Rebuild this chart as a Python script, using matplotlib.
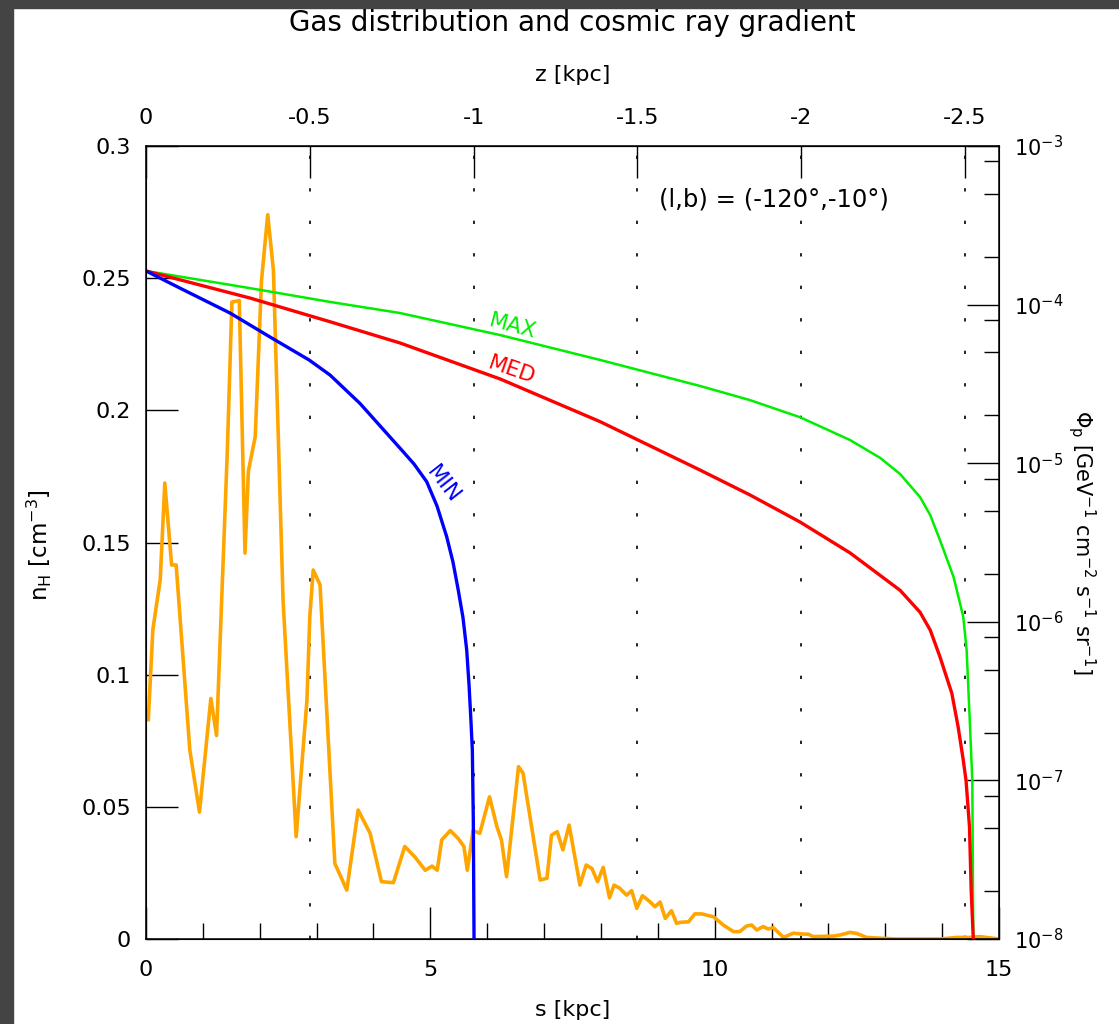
import numpy as np
import matplotlib
matplotlib.use("Agg")
import matplotlib.pyplot as plt
from matplotlib.ticker import LogLocator, NullFormatter, MultipleLocator
from matplotlib.patches import Rectangle

# gas density along the line of sight
s_gas = [0.04, 0.12, 0.25, 0.33, 0.45, 0.53, 0.77, 0.94, 1.14, 1.24, 1.43, 1.51, 1.64,
         1.74, 1.80, 1.92, 2.03, 2.14, 2.24, 2.41, 2.64, 2.83, 2.88, 2.94, 3.06, 3.32,
         3.53, 3.73, 3.94, 4.14, 4.35, 4.55, 4.73, 4.91, 5.03, 5.12, 5.20, 5.35, 5.49,
         5.59, 5.65, 5.75, 5.87, 6.04, 6.17, 6.25, 6.34, 6.55, 6.63, 6.93, 7.05, 7.13,
         7.23, 7.33, 7.44, 7.63, 7.74, 7.84, 7.94, 8.04, 8.15, 8.23, 8.33, 8.45, 8.54,
         8.63, 8.73, 8.86, 8.95, 9.04, 9.13, 9.24, 9.33, 9.39, 9.54, 9.65, 9.77, 9.98,
         10.15, 10.33, 10.44, 10.56, 10.65, 10.74, 10.85, 10.94, 11.03, 11.21, 11.38,
         11.53, 11.65, 11.73, 12.09, 12.20, 12.38, 12.50, 12.67, 12.91, 13.20, 13.49,
         13.79, 13.96, 14.26, 14.49, 14.66, 15.0]
n_gas = [0.083, 0.117, 0.136, 0.1725, 0.1415, 0.1415, 0.0715, 0.048, 0.091, 0.077, 0.185,
         0.241, 0.2415, 0.146, 0.177, 0.190, 0.249, 0.274, 0.253, 0.128, 0.0387, 0.0904,
         0.122, 0.1396, 0.134, 0.0286, 0.0185, 0.0488, 0.040, 0.0217, 0.0213, 0.035,
         0.031, 0.026, 0.0276, 0.026, 0.0375, 0.041, 0.038, 0.035, 0.026, 0.041, 0.040,
         0.0538, 0.0425, 0.0375, 0.0236, 0.0652, 0.0627, 0.0223, 0.023, 0.0393, 0.0406,
         0.0337, 0.0431, 0.0204, 0.028, 0.0267, 0.0217, 0.0271, 0.0156, 0.0204, 0.0192,
         0.0166, 0.0183, 0.0116, 0.0164, 0.0141, 0.0122, 0.014, 0.0078, 0.0107, 0.0059,
         0.0063, 0.0065, 0.0095, 0.0095, 0.0084, 0.0053, 0.0028, 0.0028, 0.0049, 0.0053,
         0.0034, 0.0047, 0.0038, 0.0043, 0.0006, 0.0022, 0.0019, 0.0018, 0.0009, 0.0011,
         0.0015, 0.0025, 0.0021, 0.0006, 0.0003, 0.0, 0.0, 0.0, 0.0, 0.0006, 0.0006,
         0.0009, 0.0]

# cosmic ray flux for the three propagation models
s_max = [0.0, 1.829, 3.235, 4.466, 6.225, 7.983, 9.741, 10.62, 11.50, 12.38, 12.91, 13.26,
         13.61, 13.79, 13.96, 14.20, 14.37, 14.43, 14.49, 14.53, 14.547]
phi_max = [1.63e-4, 1.27e-4, 1.04e-4, 8.85e-5, 6.43e-5, 4.48e-5, 3.07e-5, 2.50e-5, 1.95e-5,
           1.40e-5, 1.08e-5, 8.55e-6, 6.12e-6, 4.71e-6, 3.28e-6, 1.92e-6, 1.08e-6, 6.65e-7,
           2.18e-7, 9.95e-8, 1.0e-8]

s_med = [0.0, 1.829, 3.235, 4.466, 6.225, 7.983, 9.741, 10.62, 11.50, 12.38, 13.26, 13.61,
         13.79, 13.96, 14.17, 14.28, 14.37, 14.42, 14.48, 14.51, 14.547]
phi_med = [1.63e-4, 1.10e-4, 7.80e-5, 5.73e-5, 3.40e-5, 1.83e-5, 9.06e-6, 6.31e-6, 4.26e-6,
           2.72e-6, 1.58e-6, 1.15e-6, 8.87e-7, 6.03e-7, 3.54e-7, 2.18e-7, 1.35e-7, 9.95e-8,
           5.11e-8, 2.04e-8, 1.0e-8]

s_min = [0.0, 0.598, 1.477, 2.180, 2.866, 3.235, 3.763, 4.496, 4.713, 4.936, 5.117, 5.287,
         5.398, 5.491, 5.574, 5.639, 5.680, 5.710, 5.738, 5.755, 5.768]
phi_min = [1.63e-4, 1.27e-4, 8.85e-5, 6.25e-5, 4.48e-5, 3.60e-5, 2.38e-5, 1.21e-5, 9.88e-6,
           7.64e-6, 5.37e-6, 3.44e-6, 2.38e-6, 1.58e-6, 1.06e-6, 6.64e-7, 4.00e-7, 2.52e-7,
           1.56e-7, 5.64e-8, 1.0e-8]

z_ticks = [0, -0.5, -1, -1.5, -2, -2.5]
z_labels = ["0", "-0.5", "-1", "-1.5", "-2", "-2.5"]
nh_ticks = [0, 0.05, 0.1, 0.15, 0.2, 0.25, 0.3]
nh_labels = ["0", "0.05", "0.1", "0.15", "0.2", "0.25", "0.3"]
b_deg = -10.0

plt.rcParams['font.family'] = ['DejaVu Sans']
plt.rcParams['mathtext.fontset'] = 'dejavusans'

fig = plt.figure(figsize=(11.19, 10.24), dpi=100)
# dark frame of the screenshot
fig.patches.append(Rectangle((0, 0), 0.0116, 1, transform=fig.transFigure, color='#444444', zorder=0))
fig.patches.append(Rectangle((0, 1 - 0.0078), 1, 0.0078, transform=fig.transFigure, color='#444444', zorder=0))

ax = fig.add_axes([0.1305, 0.0830, 0.7623, 0.7744])
ax.plot(s_gas, n_gas, color='#ffa500', lw=2.6)
ax.set_xlim(0, 15)
ax.set_ylim(0, 0.3)
ax.set_xticks([0, 5, 10, 15])
ax.set_xticklabels(["0", "5", "10", "15"])
ax.xaxis.set_minor_locator(MultipleLocator(1))
ax.set_yticks(nh_ticks)
ax.set_yticklabels(nh_labels)
ax.tick_params(which='major', direction='in', length=23, width=1, labelsize=16, pad=11,
               top=False, right=False)
ax.tick_params(axis='x', which='major', pad=15)
ax.tick_params(which='minor', direction='in', length=11.5, width=1, top=False, right=False)
for sp in ax.spines.values():
    sp.set_linewidth(1.1)

# top axis: height below the plane along the line of sight
sinb = np.sin(np.radians(-b_deg))
sec = ax.secondary_xaxis('top', functions=(lambda s: -s * sinb, lambda z: -z / sinb))
sec.set_xticks(z_ticks)
sec.set_xticklabels(z_labels)
sec.tick_params(direction='in', length=23, width=1, labelsize=16, pad=13)
for z in z_ticks[1:]:
    ax.axvline(-z / sinb, color='black', lw=1.2, linestyle=(0, (2, 17.5)), zorder=1)

ax2 = ax.twinx()
ax2.set_yscale('log')
ax2.plot(s_max, phi_max, color='#00ee00', lw=1.8)
ax2.plot(s_med, phi_med, color='#ff0000', lw=2.4)
ax2.plot(s_min, phi_min, color='#0000ff', lw=2.4)
ax2.set_ylim(1e-8, 1e-3)
ax2.set_xlim(0, 15)
ax2.yaxis.set_major_locator(LogLocator(base=10, numticks=10))
ax2.yaxis.set_minor_locator(LogLocator(base=10, subs=(2, 5, 8), numticks=10))
ax2.yaxis.set_minor_formatter(NullFormatter())
ax2.tick_params(which='major', direction='in', length=23, width=1, labelsize=15, pad=11)
ax2.tick_params(which='minor', direction='in', length=11, width=1)

ax.text(0.736, 0.932, '(l,b) = (-120°,-10°)', transform=ax.transAxes, fontsize=17.5,
        ha='center', va='center')
fig.text(513 / 1119, 1 - 326 / 1024, 'MAX', color='#00ee00', fontsize=15.5, rotation=-15,
         ha='center', va='center')
fig.text(512 / 1119, 1 - 370 / 1024, 'MED', color='#ff0000', fontsize=15.5, rotation=-19,
         ha='center', va='center')
fig.text(443 / 1119, 1 - 484 / 1024, 'MIN', color='#0000ff', fontsize=15.5, rotation=-52,
         ha='center', va='center')

fig.text(572.5 / 1119, 1 - 23 / 1024, 'Gas distribution and cosmic ray gradient',
         fontsize=20, ha='center', va='center')
fig.text(572.5 / 1119, 1 - 75 / 1024, 'z [kpc]', fontsize=16, ha='center', va='center')
fig.text(572.5 / 1119, 1 - 1010 / 1024, 's [kpc]', fontsize=16, ha='center', va='center')
fig.text(39 / 1119, 1 - 545 / 1024, r'n$_{\mathrm{H}}$ [cm$^{-3}$]', fontsize=16.5,
         rotation=90, ha='center', va='center')
fig.text(1082 / 1119, 1 - 542 / 1024,
         r'$\Phi_{\mathrm{p}}$ [GeV$^{-1}$ cm$^{-2}$ s$^{-1}$ sr$^{-1}$]', fontsize=15,
         rotation=-90, ha='center', va='center')

fig.savefig('out.png', dpi=100)
